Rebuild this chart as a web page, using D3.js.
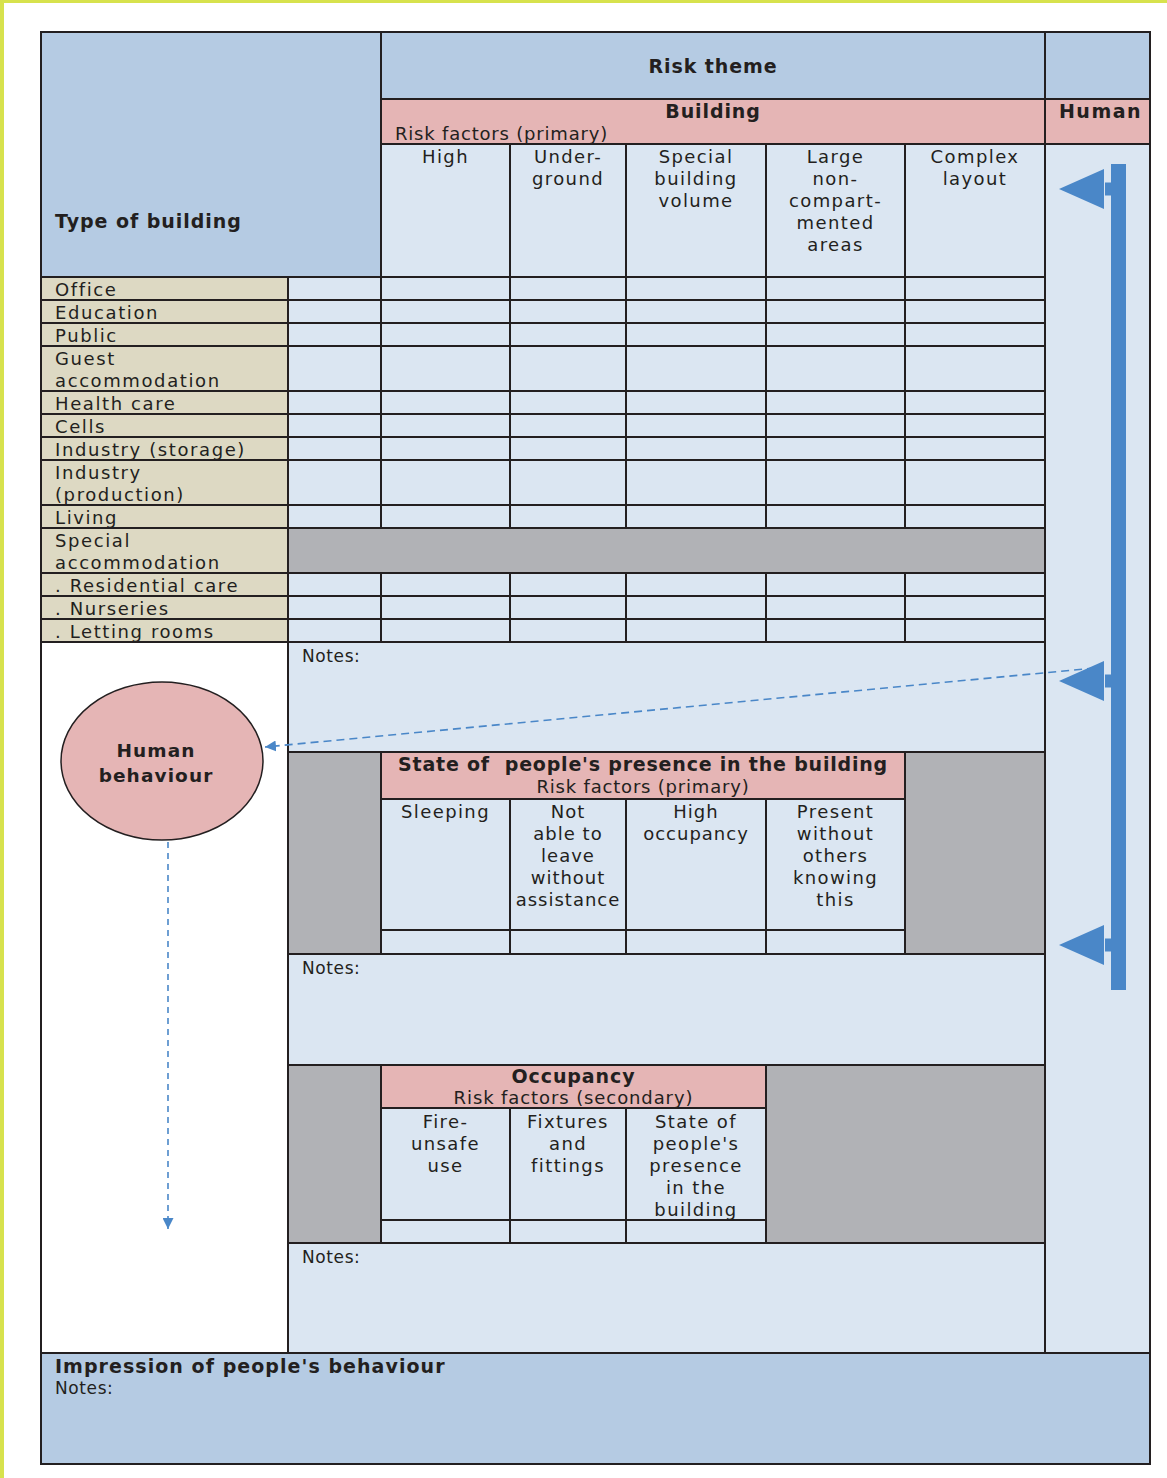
<!DOCTYPE html>
<html>
<head>
<meta charset="utf-8">
<script src="https://cdn.jsdelivr.net/npm/d3@7"></script>
<style>
  html, body { margin: 0; padding: 0; background: #ffffff; }
  svg { display: block; }
  text { font-family: "DejaVu Sans", Verdana, sans-serif; fill: #231f20; white-space: pre; }
</style>
</head>
<body>
<script>
// ---------------- DATA ----------------
const themeTitle = "Risk theme";
const rowHeaderTitle = "Type of building";
const buildingTheme = "Building";
const humanTheme = "Human";
const primaryLabel = "Risk factors (primary)";
const secondaryLabel = "Risk factors (secondary)";

const buildingTypes = [
  ["Office"], ["Education"], ["Public"], ["Guest", "accommodation"],
  ["Health care"], ["Cells"], ["Industry (storage)"], ["Industry", "(production)"],
  ["Living"], ["Special", "accommodation"], [". Residential care"], [". Nurseries"], [". Letting rooms"]
];
const groupHeaderRows = ["Special accommodation"];

const buildingFactors = [
  ["High"], ["Under-", "ground"], ["Special", "building", "volume"],
  ["Large", "non-", "compart-", "mented", "areas"], ["Complex", "layout"]
];
const presenceTitle = "State of  people's presence in the building";
const presenceFactors = [
  ["Sleeping"], ["Not", "able to", "leave", "without", "assistance"],
  ["High", "occupancy"], ["Present", "without", "others", "knowing", "this"]
];
const occupancyTitle = "Occupancy";
const occupancyFactors = [
  ["Fire-", "unsafe", "use"], ["Fixtures", "and", "fittings"],
  ["State of", "people's", "presence", "in the", "building"]
];
const notesLabel = "Notes:";
const behaviourLabel = ["Human", "behaviour"];
const impressionTitle = "Impression of people's behaviour";

// ---------------- LAYOUT / STYLE ----------------
const W = 1167, H = 1478;
const C = {
  hdr: "#b5cbe3", light: "#dbe6f2", pink: "#e5b5b5", tan: "#ddd9c3",
  gray: "#b1b2b6", line: "#231f20", blue: "#4a87c8", yellow: "#d7e24d"
};
const colEdges = [381, 510, 626, 766, 905, 1045];
const x = d3.scaleOrdinal().domain(d3.range(colEdges.length)).range(colEdges);
const L = 41, R = 1150, T = 32, B = 1464, labelR = 288, humanL = 1045;
const LH = 22;

const svg = d3.select("body").append("svg").attr("width", W).attr("height", H);

// yellow page accent
svg.append("rect").attr("x", 0).attr("y", 0).attr("width", W).attr("height", 3).attr("fill", C.yellow);
svg.append("rect").attr("x", 0).attr("y", 0).attr("width", 4).attr("height", H).attr("fill", C.yellow);

const gCells = svg.append("g");
const gText = svg.append("g");

function cell(x0, y0, x1, y1, fill) {
  gCells.append("rect").attr("x", x0).attr("y", y0).attr("width", x1 - x0).attr("height", y1 - y0)
    .attr("fill", fill).attr("stroke", C.line).attr("stroke-width", 2);
}
function lines(arr, cx, y0, opts = {}) {
  const t = gText.append("text")
    .attr("x", cx).attr("y", y0)
    .attr("text-anchor", opts.anchor || "middle")
    .attr("font-size", opts.size || 18)
    .attr("font-weight", opts.bold ? "bold" : "normal")
    .attr("letter-spacing", opts.ls != null ? opts.ls : (opts.bold ? 0.9 : 1.4));
  arr.forEach((s, i) => t.append("tspan").attr("x", cx).attr("y", y0 + i * (opts.lh || LH)).text(s));
  return t;
}

// ---- header ----
cell(L, T, x(0), 277, C.hdr);
lines([rowHeaderTitle], 55, 228, { anchor: "start", bold: true, size: 19, ls: 0.95 });
cell(x(0), T, humanL, 99, C.hdr);
lines([themeTitle], (x(0) + humanL) / 2, 73, { bold: true, size: 19 });
cell(humanL, T, R, 99, C.hdr);
cell(x(0), 99, humanL, 144, C.pink);
lines([buildingTheme], (x(0) + humanL) / 2, 118, { bold: true, size: 19 });
lines([primaryLabel], 395, 140, { anchor: "start", ls: 0.8 });
cell(humanL, 99, R, 144, C.pink);
lines([humanTheme], (humanL + R) / 2 + 3, 118, { bold: true, size: 19, ls: 1.5 });

buildingFactors.forEach((f, i) => {
  cell(x(i), 144, x(i + 1), 277, C.light);
  lines(f, (x(i) + x(i + 1)) / 2, 163, {});
});

// human column body
cell(humanL, 144, R, 1353, C.light);

// ---- building type rows ----
let yy = 277;
buildingTypes.forEach(lab => {
  const h = 23 + LH * (lab.length - 1);
  const y0 = yy, y1 = yy + h;
  cell(L, y0, labelR, y1, C.tan);
  lines(lab, 55, y0 + 19, { anchor: "start", ls: 1.6 });
  if (groupHeaderRows.includes(lab.join(" "))) {
    cell(labelR, y0, humanL, y1, C.gray);
  } else {
    cell(labelR, y0, x(0), y1, C.light);
    buildingFactors.forEach((f, i) => cell(x(i), y0, x(i + 1), y1, C.light));
  }
  yy = y1;
});
const tableBottom = yy; // 642

// ---- left white panel ----
cell(L, tableBottom, labelR, 1353, "#ffffff");

// ---- notes 1 ----
cell(labelR, tableBottom, humanL, 752, C.light);
lines([notesLabel], 302, tableBottom + 20, { anchor: "start", size: 17, ls: 0.6 });

// ---- presence section ----
cell(labelR, 752, x(0), 954, C.gray);
cell(x(presenceFactors.length), 752, humanL, 954, C.gray);
cell(x(0), 752, x(presenceFactors.length), 799, C.pink);
lines([presenceTitle], (x(0) + x(presenceFactors.length)) / 2, 771, { bold: true, size: 19, ls: 0.8 });
lines([primaryLabel], (x(0) + x(presenceFactors.length)) / 2, 793, { ls: 0.8 });
presenceFactors.forEach((f, i) => {
  cell(x(i), 799, x(i + 1), 930, C.light);
  cell(x(i), 930, x(i + 1), 954, C.light);
  lines(f, (x(i) + x(i + 1)) / 2, 818, { ls: f.some(s => s.length > 8) ? 1.0 : 1.4 });
});

// ---- notes 2 ----
cell(labelR, 954, humanL, 1065, C.light);
lines([notesLabel], 302, 974, { anchor: "start", size: 17, ls: 0.6 });

// ---- occupancy section ----
cell(labelR, 1065, x(0), 1243, C.gray);
cell(x(occupancyFactors.length), 1065, humanL, 1243, C.gray);
cell(x(0), 1065, x(occupancyFactors.length), 1108, C.pink);
lines([occupancyTitle], (x(0) + x(occupancyFactors.length)) / 2, 1083, { bold: true, size: 19 });
lines([secondaryLabel], (x(0) + x(occupancyFactors.length)) / 2, 1104, { ls: 0.9 });
occupancyFactors.forEach((f, i) => {
  cell(x(i), 1108, x(i + 1), 1220, C.light);
  cell(x(i), 1220, x(i + 1), 1243, C.light);
  lines(f, (x(i) + x(i + 1)) / 2, 1128, {});
});

// ---- notes 3 ----
cell(labelR, 1243, humanL, 1353, C.light);
lines([notesLabel], 302, 1263, { anchor: "start", size: 17, ls: 0.6 });

// ---- bottom ----
cell(L, 1353, R, B, C.hdr);
lines([impressionTitle], 55, 1373, { anchor: "start", bold: true, size: 19, ls: 1.05 });
lines([notesLabel], 55, 1394, { anchor: "start", size: 17, ls: 0.6 });

// ---- human behaviour ellipse ----
const gFig = svg.append("g");
gFig.append("ellipse").attr("cx", 162).attr("cy", 761).attr("rx", 101).attr("ry", 79)
  .attr("fill", C.pink).attr("stroke", C.line).attr("stroke-width", 1.5);
gFig.append("text").attr("text-anchor", "middle").attr("font-size", 18.5).attr("font-weight", "bold")
  .attr("letter-spacing", 1.1)
  .selectAll("tspan").data(behaviourLabel).join("tspan")
  .attr("x", 156).attr("y", (d, i) => 757 + i * 25).text(d => d);

// dashed arrows
svg.append("defs").append("marker").attr("id", "ah").attr("viewBox", "0 0 10 10")
  .attr("refX", 10).attr("refY", 5).attr("markerWidth", 11).attr("markerHeight", 11)
  .attr("markerUnits", "userSpaceOnUse").attr("orient", "auto")
  .append("path").attr("d", "M0,0 L10,5 L0,10 Z").attr("fill", C.blue);

gFig.append("line").attr("x1", 1095).attr("y1", 668).attr("x2", 265).attr("y2", 747)
  .attr("stroke", C.blue).attr("stroke-width", 1.6).attr("stroke-dasharray", "8,5")
  .attr("marker-end", "url(#ah)");
gFig.append("line").attr("x1", 168).attr("y1", 842).attr("x2", 168).attr("y2", 1229)
  .attr("stroke", C.blue).attr("stroke-width", 1.6).attr("stroke-dasharray", "6,5")
  .attr("marker-end", "url(#ah)");

// thick blue bar with arrows
gFig.append("rect").attr("x", 1111).attr("y", 164).attr("width", 15).attr("height", 826).attr("fill", C.blue);
[189, 681, 945].forEach(cy => {
  gFig.append("path").attr("d", `M1059,${cy} L1104,${cy - 20} L1104,${cy + 20} Z`).attr("fill", C.blue);
  gFig.append("rect").attr("x", 1105).attr("y", cy - 6.5).attr("width", 7).attr("height", 13).attr("fill", C.blue);
});
</script>
</body>
</html>
